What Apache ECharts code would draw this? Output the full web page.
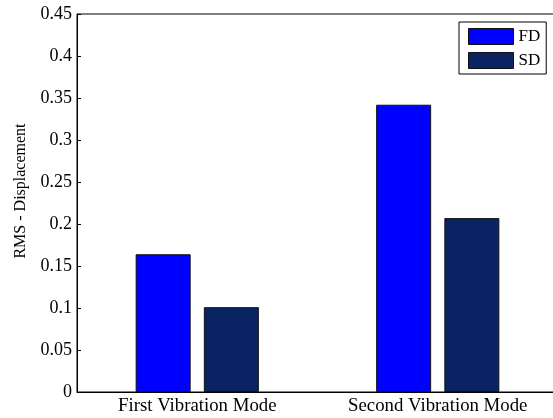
<!DOCTYPE html>
<html>
<head>
<meta charset="utf-8">
<script src="https://cdn.jsdelivr.net/npm/echarts@6/dist/echarts.min.js"></script>
<style>html,body{margin:0;padding:0;background:#fff;overflow:hidden}#c{width:553px;height:418px}</style>
</head>
<body>
<div id="c"></div>
<script>
var categories = ['First Vibration Mode', 'Second Vibration Mode'];
var fdValues = [0.164, 0.342];
var sdValues = [0.101, 0.207];
var seriesNames = ['FD', 'SD'];

var chart = echarts.init(document.getElementById('c'));
var font = 'Liberation Serif';
chart.setOption({
  animation: false,
  backgroundColor: '#fff',
  grid: { left: 77, right: -5, top: 14, bottom: 26, show: true, borderColor: '#000', borderWidth: 1,
          containLabel: false, outerBoundsMode: 'none' },
  legend: {
    data: seriesNames,
    orient: 'vertical',
    left: 459, top: 22,
    padding: [6, 6, 5, 9],
    itemWidth: 45, itemHeight: 16, itemGap: 7,
    icon: 'rect',
    backgroundColor: '#fff', borderColor: '#000', borderWidth: 1,
    textStyle: { fontFamily: font, fontSize: 17, color: '#000' },
    itemStyle: { borderColor: '#111', borderWidth: 1 }
  },
  xAxis: {
    type: 'category', data: categories,
    axisLine: { lineStyle: { color: '#000' } },
    axisTick: { inside: true, alignWithLabel: true, length: 5, lineStyle: { color: '#000' } },
    axisLabel: { fontFamily: font, fontSize: 18.8, color: '#000', margin: 5 }
  },
  yAxis: {
    type: 'value', min: 0, max: 0.45, interval: 0.05,
    name: 'RMS - Displacement', nameLocation: 'middle', nameGap: 48,
    nameTextStyle: { fontFamily: font, fontSize: 16, color: '#000', padding: [0, 0, 0, 24] },
    splitLine: { show: false },
    axisLine: { show: true, lineStyle: { color: '#000' } },
    axisTick: { show: true, inside: true, length: 4, lineStyle: { color: '#000' } },
    axisLabel: { fontFamily: font, fontSize: 18, color: '#000', margin: 5,
      formatter: function(v){ return String(Math.round(v*100)/100); } }
  },
  series: [
    { name: seriesNames[0], type: 'bar', data: fdValues, barWidth: 55, barGap: '24%',
      itemStyle: { color: '#0000ff', borderColor: '#111', borderWidth: 1 } },
    { name: seriesNames[1], type: 'bar', data: sdValues, barWidth: 55,
      itemStyle: { color: '#0a2463', borderColor: '#111', borderWidth: 1 } }
  ]
});
</script>
</body>
</html>
